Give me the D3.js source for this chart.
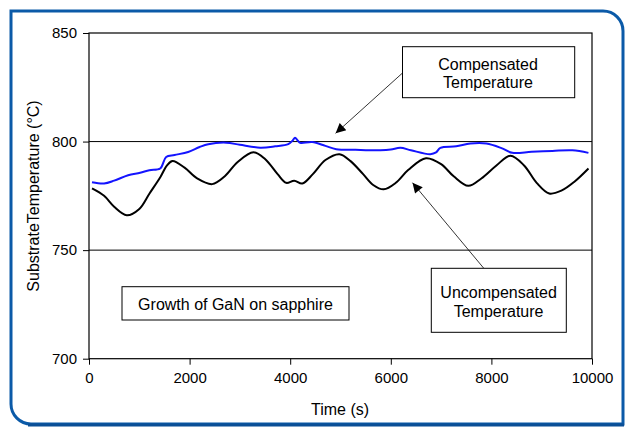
<!DOCTYPE html>
<html><head><meta charset="utf-8">
<script src="https://cdn.jsdelivr.net/npm/d3@7"></script>
<style>body{margin:0;background:#fff}svg{display:block}text{font-family:"Liberation Sans",Arial,sans-serif}</style>
</head><body><svg id="c" width="628" height="429"></svg>
<script>
const xTicks=[0,2000,4000,6000,8000,10000];
const yTicks=[700,750,800,850];
const gridValues=[750,800];
const uncompTime=[60,300,500,750,1000,1200,1420,1550,1660,1900,2150,2450,2700,2950,3270,3500,3750,3920,4080,4240,4450,4700,4980,5200,5450,5650,5860,6100,6350,6700,7000,7250,7540,7800,8100,8380,8650,8900,9150,9400,9650,9930];
const uncompTemp=[778.4,775,770,766.1,769,776,783.7,789,791.1,788,783,780.4,784,790.5,795.1,792,785,781,782,780.7,785,791.5,794.2,791,785,780,778,781,787,792.3,789.6,784,779.6,783,789,793.5,789,781,776.1,777.5,781.5,787.6];
const compTime=[60,300,500,778,1017,1200,1415,1534,1700,1972,2200,2370,2728,3000,3404,3700,3961,4050,4096,4150,4200,4438,4700,4915,5300,5791,6000,6189,6400,6785,6900,6985,7300,7582,7900,8200,8417,8800,9213,9611,9929];
const compTemp=[781.3,780.7,782,784.5,785.6,786.8,787.6,792.9,793.8,795.2,797.5,798.8,799.5,798.5,797.2,797.8,798.8,800.5,801.8,800.5,799.4,799.8,798,796.5,796.2,796,796.3,797.1,796,794.2,795,797.1,797.8,799.1,799.1,797,794.8,795.3,795.7,796,794.8];

const svg=d3.select("#c");
// frame
svg.append("path")
  .attr("d","M11,11 H603 A20,20 0 0 1 623,31 V424 H31 A20,20 0 0 1 11,404 Z")
  .attr("fill","none").attr("stroke","#0b5aa8").attr("stroke-width",3);
svg.append("line").attr("x1",28).attr("x2",624).attr("y1",425).attr("y2",425).attr("stroke","#0b4f96").attr("stroke-width",3);

const L=89,R=592,T=33,B=358.7;
const x=d3.scaleLinear().domain([0,10000]).range([L,R]);
const y=d3.scaleLinear().domain([700,850]).range([B,T]);

// grid
svg.selectAll(".g").data(gridValues).join("line")
  .attr("x1",L).attr("x2",R).attr("y1",d=>y(d)).attr("y2",d=>y(d))
  .attr("stroke","#000").attr("stroke-width",1);
// plot border
svg.append("rect").attr("x",L).attr("y",T).attr("width",R-L).attr("height",B-T)
  .attr("fill","none").attr("stroke","#000").attr("stroke-width",1.2);

const ya=svg.append("g").attr("transform",`translate(${L},0)`)
  .call(d3.axisLeft(y).tickValues(yTicks).tickSize(6).tickPadding(6).tickFormat(d3.format("d")));
ya.select(".domain").remove();
ya.selectAll("text").attr("font-size",15).attr("fill","#000").attr("font-family","Liberation Sans, Arial, sans-serif");
ya.selectAll("line").attr("stroke","#000");

const xa=svg.append("g").attr("transform",`translate(0,${B})`)
  .call(d3.axisBottom(x).tickValues(xTicks).tickSize(6).tickPadding(8).tickFormat(d3.format("d")));
xa.select(".domain").remove();
xa.selectAll("text").attr("font-size",15).attr("fill","#000").attr("font-family","Liberation Sans, Arial, sans-serif");
xa.selectAll("line").attr("stroke","#000");

const line=d3.line().curve(d3.curveCatmullRom.alpha(0.5));
const uncomp=uncompTime.map((t,i)=>[x(t),y(uncompTemp[i])]);
const comp=compTime.map((t,i)=>[x(t),y(compTemp[i])]);
svg.append("path").attr("d",line(uncomp)).attr("fill","none").attr("stroke","#000").attr("stroke-width",2);
svg.append("path").attr("d",line(comp)).attr("fill","none").attr("stroke","#1414ff").attr("stroke-width",2);

// titles
svg.append("text").attr("x",340).attr("y",415).attr("text-anchor","middle").attr("font-size",16).text("Time (s)");
svg.append("text").attr("transform","translate(39,196) rotate(-90)").attr("text-anchor","middle").attr("font-size",16).text("SubstrateTemperature (°C)");

// arrows
const defs=svg.append("defs");
defs.append("marker").attr("id","ah").attr("viewBox","0 0 10 10").attr("refX",10).attr("refY",5)
  .attr("markerWidth",14).attr("markerHeight",10).attr("markerUnits","userSpaceOnUse").attr("orient","auto")
  .append("path").attr("d","M0,0 L10,5 L0,10 Z").attr("fill","#000");
svg.append("line").attr("x1",402.5).attr("y1",73).attr("x2",335.6).attr("y2",133.3)
  .attr("stroke","#000").attr("stroke-width",0.8).attr("marker-end","url(#ah)");
svg.append("line").attr("x1",483.8).attr("y1",268.3).attr("x2",412.5).attr("y2",182.7)
  .attr("stroke","#000").attr("stroke-width",0.8).attr("marker-end","url(#ah)");

// boxes
function box(x0,y0,x1,y1,lines,cx,b0){
  svg.append("rect").attr("x",x0).attr("y",y0).attr("width",x1-x0).attr("height",y1-y0)
    .attr("fill","#fff").attr("stroke","#000").attr("stroke-width",1);
  lines.forEach((s,i)=>svg.append("text").attr("x",cx).attr("y",b0+i*18.8).attr("text-anchor","middle").attr("font-size",16).text(s));
}
box(402.5,46.7,574.7,97.7,["Compensated","Temperature"],488,69.5);
box(431.3,268.3,566.3,332.3,["Uncompensated","Temperature"],498.6,297.7);
box(122,286.7,349,320,["Growth of GaN on sapphire"],235.5,309.5);
</script></body></html>
